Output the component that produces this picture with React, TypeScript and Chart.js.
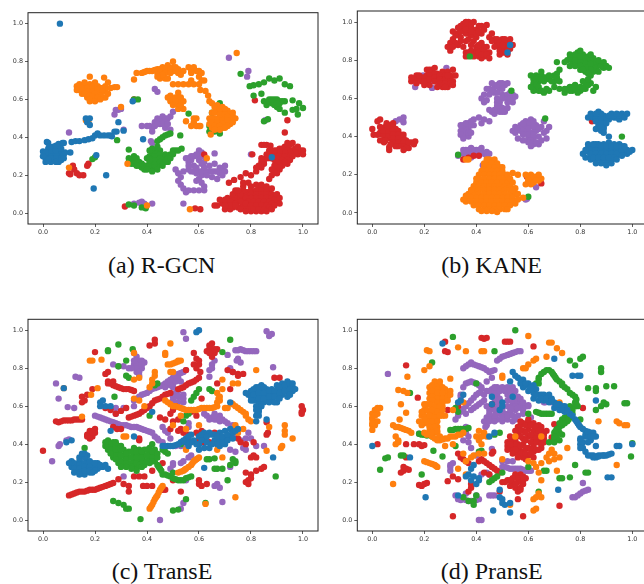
import React, { useEffect, useRef } from "react";
import { Chart, registerables } from "chart.js";

Chart.register(...registerables);

type P = number[];

const seriesColors = ["#1f77b4", "#ff7f0e", "#2ca02c", "#d62728", "#9467bd"];
const tickValues = [0, 0.2, 0.4, 0.6, 0.8, 1.0];
const captions = ["(a) R-GCN", "(b) KANE", "(c) TransE", "(d) PransE"];

// (a) R-GCN
const rgcnBlue: P[] = [[.065,1],[.195,.13],[.243,.2],[.385,.39],[.29,.48],[.345,.59],[.283,.43],[.31,.435],[0,.325],[.02,.3],[.02,.325],[.02,.34],[.04,.28],[.04,.3],[.04,.32],[.04,.34],[.04,.35],[.06,.27],[.06,.29],[.06,.31],[.06,.33],[.07,.3],[.07,.32],[.03,.27],[.01,.29],[.08,.31],[.085,.32],[.105,.32],[.015,.375],[.02,.37],[.06,.365],[.075,.37],[.08,.37],[.11,.375],[.125,.38],[.14,.38],[.16,.385],[.175,.39],[.19,.395],[.2,.41],[.21,.42],[.22,.41],[.235,.41],[.25,.41],[.26,.41],[.265,.405],[.165,.5],[.18,.5],[.17,.48],[.18,.465],[.205,.305],[.275,.43],[.88,.295],[.03,.31],[.03,.33],[.05,.31],[.05,.33],[.05,.29],[.01,.32],[.03,.29],[.05,.27],[.07,.28],[.025,.35],[.05,.355],[0,.3],[.01,.27],[.08,.29],[.07,.34],[.02,.28]];
const rgcnOrange: P[] = [[.14,.68],[.16,.67],[.18,.68],[.2,.69],[.22,.66],[.24,.67],[.14,.65],[.16,.65],[.18,.65],[.2,.65],[.22,.64],[.24,.65],[.15,.63],[.17,.63],[.19,.63],[.21,.63],[.17,.61],[.19,.6],[.2,.61],[.23,.61],[.24,.61],[.18,.59],[.18,.72],[.235,.715],[.275,.665],[.285,.665],[.3,.56],[.35,.705],[.36,.74],[.38,.74],[.4,.75],[.42,.75],[.44,.76],[.44,.74],[.46,.77],[.46,.75],[.48,.78],[.48,.75],[.5,.8],[.5,.77],[.5,.75],[.52,.76],[.52,.74],[.54,.75],[.45,.71],[.47,.71],[.48,.71],[.56,.77],[.57,.75],[.58,.77],[.59,.75],[.6,.75],[.61,.74],[.6,.72],[.61,.7],[.62,.7],[.57,.74],[.5,.68],[.52,.68],[.54,.68],[.56,.68],[.57,.7],[.58,.68],[.6,.68],[.605,.65],[.625,.645],[.635,.62],[.64,.59],[.65,.58],[.52,.635],[.48,.61],[.49,.62],[.5,.6],[.52,.6],[.53,.59],[.54,.59],[.5,.58],[.52,.57],[.52,.55],[.54,.55],[.49,.59],[.51,.58],[.55,.485],[.58,.5],[.59,.5],[.58,.48],[.57,.46],[.59,.46],[.6,.46],[.605,.46],[.63,.29],[.1,.24],[.325,.26],[.67,.57],[.69,.56],[.71,.54],[.65,.53],[.67,.54],[.69,.53],[.72,.52],[.73,.51],[.64,.5],[.66,.5],[.68,.51],[.7,.5],[.72,.49],[.64,.47],[.66,.47],[.68,.48],[.7,.47],[.72,.47],[.65,.45],[.67,.45],[.69,.45],[.645,.415],[.745,.845],[.565,.02],[.165,.49],[.175,.48],[.4,.04],[.15,.67],[.17,.66],[.19,.67],[.21,.67],[.23,.66],[.15,.65],[.17,.64],[.19,.64],[.21,.65],[.23,.64],[.16,.63],[.18,.62],[.2,.63],[.22,.62],[.19,.615],[.21,.61],[.18,.6],[.39,.745],[.41,.75],[.43,.755],[.45,.76],[.47,.765],[.49,.76],[.47,.74],[.49,.74],[.51,.75],[.51,.77],[.53,.73],[.46,.73],[.44,.72],[.66,.56],[.68,.55],[.7,.55],[.66,.53],[.68,.52],[.7,.52],[.71,.51],[.65,.5],[.67,.49],[.69,.49],[.71,.49],[.65,.48],[.67,.48],[.69,.47],[.71,.46],[.66,.46],[.68,.46],[.7,.45],[.68,.44],[.66,.44],[.51,.61],[.53,.61],[.51,.59],[.53,.57],[.5,.57],[.13,.67],[.13,.65],[.25,.63],[.26,.66],[.25,.69],[.16,.69],[.2,.59],[.22,.6],[.74,.5],[.73,.48],[.73,.53]];
const rgcnGreen: P[] = [[.35,.6],[.365,.6],[.56,.525],[.76,.735],[.528,.41],[.533,.34],[.285,.385],[.33,.335],[.44,.38],[.45,.39],[.46,.4],[.47,.41],[.48,.415],[.49,.42],[.35,.3],[.35,.28],[.34,.26],[.36,.27],[.37,.25],[.38,.24],[.39,.23],[.4,.29],[.41,.27],[.41,.3],[.42,.32],[.42,.29],[.42,.26],[.42,.24],[.44,.33],[.44,.31],[.44,.28],[.44,.25],[.46,.3],[.46,.27],[.47,.29],[.48,.27],[.49,.31],[.5,.33],[.51,.33],[.33,.045],[.35,.04],[.38,.03],[.395,.025],[.19,.285],[.2,.295],[.795,.67],[.81,.675],[.83,.68],[.85,.69],[.87,.71],[.89,.7],[.91,.71],[.93,.68],[.95,.67],[.84,.63],[.81,.62],[.85,.59],[.87,.6],[.89,.6],[.91,.59],[.93,.59],[.96,.595],[.86,.57],[.88,.58],[.9,.56],[.91,.55],[.93,.53],[.96,.545],[.975,.55],[.985,.58],[.98,.52],[1,.555],[.85,.485],[.865,.495],[.64,.46],[.64,.43],[.66,.43],[.68,.42],[.68,.58],[.67,.55],[.65,.53],[.715,.525],[.36,.29],[.37,.27],[.35,.26],[.38,.26],[.39,.25],[.4,.25],[.41,.25],[.43,.25],[.43,.27],[.43,.29],[.43,.31],[.45,.33],[.45,.31],[.45,.29],[.45,.27],[.41,.28],[.43,.33],[.47,.27],[.47,.31],[.87,.59],[.89,.59],[.91,.58],[.88,.6],[.9,.6],[.92,.59],[.89,.57],[.9,.58],[.33,.27],[.33,.29],[.36,.25],[.4,.23],[.42,.22],[.44,.23],[.46,.25],[.48,.29],[.49,.29],[.5,.31],[.52,.33],[.42,.34],[.44,.35],[.41,.33]];
const rgcnRed: P[] = [[.065,.285],[.35,.6],[.815,.595],[.94,.49],[.93,.425],[.805,.31],[.315,.035],[.585,.025],[.605,.02],[.62,.31],[.115,.25],[.12,.23],[.13,.21],[.14,.2],[.155,.2],[.1,.21],[.17,.25],[.175,.26],[.105,.205],[.84,.36],[.85,.36],[.86,.36],[.875,.355],[.95,.36],[.93,.35],[.91,.34],[.95,.33],[.97,.34],[.99,.33],[1,.33],[.98,.31],[.96,.31],[.94,.31],[.92,.32],[.9,.31],[.88,.31],[.87,.29],[.89,.28],[.91,.29],[.93,.28],[.95,.28],[.94,.26],[.92,.25],[.91,.23],[.9,.21],[.88,.2],[.87,.18],[.85,.26],[.84,.24],[.82,.22],[.8,.2],[.78,.21],[.76,.19],[.735,.175],[.715,.16],[.83,.13],[.85,.13],[.79,.11],[.81,.11],[.83,.11],[.85,.11],[.87,.11],[.77,.09],[.79,.09],[.81,.09],[.83,.09],[.85,.09],[.87,.09],[.89,.09],[.78,.07],[.8,.07],[.82,.07],[.84,.07],[.86,.07],[.88,.07],[.9,.06],[.77,.05],[.79,.05],[.81,.05],[.83,.05],[.85,.05],[.87,.05],[.78,.03],[.8,.03],[.82,.03],[.84,.03],[.86,.03],[.8,.01],[.82,.01],[.84,.01],[.82,.15],[.8,.14],[.77,.14],[.67,.04],[.69,.05],[.71,.05],[.73,.06],[.71,.08],[.73,.08],[.75,.08],[.75,.1],[.73,.1],[.77,.12],[.75,.06],[.73,.03],[.75,.03],[.77,.04],[.66,.04],[.7,.02],[.72,.02],[.94,.35],[.92,.34],[.9,.33],[.94,.33],[.96,.33],[.98,.33],[.97,.32],[.95,.32],[.93,.32],[.91,.32],[.89,.31],[.87,.31],[.89,.3],[.91,.3],[.93,.3],[.95,.3],[.96,.3],[.88,.29],[.9,.29],[.92,.28],[.94,.28],[.93,.27],[.91,.26],[.9,.24],[.91,.25],[.89,.22],[.86,.29],[.85,.28],[.84,.27],[.83,.25],[.82,.24],[.78,.11],[.8,.12],[.82,.12],[.84,.12],[.86,.12],[.78,.09],[.8,.1],[.82,.1],[.84,.1],[.86,.1],[.88,.1],[.76,.08],[.78,.08],[.8,.08],[.82,.08],[.84,.08],[.86,.08],[.88,.08],[.79,.06],[.81,.06],[.83,.06],[.85,.06],[.87,.06],[.89,.07],[.76,.06],[.78,.05],[.8,.04],[.82,.04],[.84,.04],[.86,.04],[.88,.05],[.79,.02],[.81,.02],[.83,.02],[.85,.02],[.87,.03],[.68,.07],[.7,.07],[.72,.06],[.74,.05],[.72,.04],[.7,.04],[.76,.1],[.74,.12],[.74,.04],[1,.31],[.98,.35],[.96,.37],[.94,.37],[.89,.33],[.87,.33],[.86,.31],[.84,.29],[.9,.27],[.89,.25],[.88,.23],[.75,.12],[.77,.16],[.79,.16],[.84,.15],[.86,.14],[.88,.13],[.9,.1],[.91,.08],[.91,.05],[.89,.04],[.76,.02],[.78,.01],[.86,.01],[.88,.02]];
const rgcnPurple: P[] = [[.005,.32],[.1,.425],[.79,.75],[.785,.72],[.715,.82],[.855,.49],[.8,.31],[.31,.44],[.43,.655],[.44,.64],[.28,.545],[.275,.52],[.29,.545],[.3,.55],[.38,.46],[.4,.46],[.42,.45],[.43,.48],[.44,.5],[.46,.51],[.48,.5],[.49,.51],[.5,.535],[.45,.47],[.47,.48],[.47,.45],[.49,.44],[.42,.43],[.415,.38],[.42,.37],[.56,.29],[.58,.3],[.6,.33],[.61,.32],[.62,.3],[.66,.315],[.56,.27],[.58,.25],[.6,.28],[.62,.27],[.64,.25],[.66,.26],[.68,.24],[.69,.23],[.56,.23],[.58,.22],[.6,.22],[.62,.22],[.64,.22],[.66,.22],[.68,.21],[.61,.2],[.65,.19],[.67,.18],[.51,.23],[.52,.21],[.53,.19],[.52,.17],[.53,.15],[.54,.13],[.55,.11],[.56,.12],[.58,.12],[.6,.18],[.61,.16],[.6,.12],[.62,.12],[.54,.05],[.35,.05],[.37,.055],[.38,.06],[.39,.05],[.42,.05],[.395,.04],[.41,.46],[.43,.46],[.45,.49],[.47,.5],[.46,.47],[.44,.47],[.48,.47],[.59,.24],[.57,.22],[.59,.21],[.61,.22],[.63,.22],[.65,.22],[.67,.22],[.61,.26],[.6,.3],[.59,.31],[.62,.24],[.63,.2],[.57,.28],[.57,.3],[.59,.17],[.62,.14],[.55,.29],[.7,.25],[.7,.22],[.69,.2],[.56,.25],[.54,.22]];

// (b) KANE
const kaneBlue: P[] = [[.83,.5],[.85,.5],[.87,.53],[.87,.49],[.89,.51],[.89,.48],[.91,.49],[.87,.46],[.89,.45],[.86,.44],[.88,.43],[.89,.44],[.92,.52],[.94,.51],[.96,.52],[.93,.5],[.95,.49],[.94,.5],[.83,.36],[.91,.4],[.82,.29],[.87,.36],[.89,.36],[.91,.37],[.93,.36],[.95,.36],[.83,.34],[.85,.34],[.87,.34],[.89,.34],[.91,.34],[.93,.34],[.95,.34],[.97,.33],[.83,.32],[.85,.32],[.87,.32],[.89,.32],[.91,.32],[.93,.32],[.95,.32],[.97,.32],[1,.33],[.84,.3],[.86,.3],[.88,.3],[.9,.3],[.92,.3],[.94,.3],[.96,.31],[.98,.31],[.84,.28],[.86,.28],[.88,.28],[.9,.28],[.92,.28],[.88,.26],[.9,.26],[.52,.84],[.53,.88],[.86,.5],[.86,.48],[.88,.5],[.88,.47],[.88,.52],[.9,.5],[.9,.47],[.88,.45],[.93,.51],[.95,.51],[.94,.52],[.84,.33],[.86,.33],[.88,.33],[.9,.33],[.92,.33],[.94,.33],[.96,.33],[.84,.31],[.86,.31],[.88,.31],[.9,.31],[.92,.31],[.94,.31],[.96,.3],[.85,.29],[.87,.29],[.89,.29],[.91,.29],[.93,.29],[.88,.35],[.9,.35],[.92,.35],[.94,.35],[.81,.31],[.82,.33],[.98,.33],[.99,.32],[.96,.35],[.97,.35],[.86,.36],[.85,.36],[.86,.26],[.92,.26],[.94,.28],[.9,.25],[.84,.52],[.91,.51],[.97,.5],[.98,.52],[.86,.52],[.89,.42]];
const kaneOrange: P[] = [[.45,.28],[.47,.28],[.44,.26],[.46,.26],[.48,.26],[.43,.24],[.45,.24],[.47,.24],[.49,.24],[.42,.22],[.44,.22],[.46,.22],[.48,.22],[.5,.22],[.41,.2],[.43,.2],[.45,.2],[.47,.2],[.49,.2],[.51,.2],[.41,.18],[.43,.18],[.45,.18],[.47,.18],[.49,.18],[.51,.18],[.4,.16],[.42,.16],[.44,.16],[.46,.16],[.48,.16],[.5,.16],[.52,.16],[.39,.14],[.41,.14],[.43,.14],[.45,.14],[.47,.14],[.49,.14],[.51,.14],[.53,.14],[.39,.12],[.41,.12],[.43,.12],[.45,.12],[.47,.12],[.49,.12],[.51,.12],[.53,.12],[.37,.1],[.39,.1],[.41,.1],[.43,.1],[.45,.1],[.47,.1],[.49,.1],[.51,.1],[.53,.1],[.55,.1],[.36,.08],[.38,.08],[.4,.08],[.42,.08],[.44,.08],[.46,.08],[.48,.08],[.5,.08],[.52,.08],[.54,.08],[.36,.06],[.38,.06],[.4,.06],[.42,.06],[.44,.06],[.46,.06],[.48,.06],[.5,.06],[.52,.06],[.54,.06],[.39,.04],[.41,.04],[.43,.04],[.45,.04],[.47,.04],[.49,.04],[.51,.04],[.53,.04],[.41,.02],[.43,.02],[.45,.02],[.47,.02],[.49,.02],[.51,.02],[.46,.01],[.48,.005],[.54,.21],[.59,.2],[.61,.2],[.63,.19],[.62,.17],[.64,.17],[.6,.16],[.59,.15],[.61,.15],[.65,.18],[.56,.2],[.56,.1],[.58,.08],[.54,.16],[.36,.28],[.37,.28],[.64,.2],[.6,.18],[.62,.19],[.6,.17],[.62,.16],[.63,.17],[.35,.07],[.36,.09],[.38,.12],[.4,.18],[.43,.26],[.44,.28],[.5,.24],[.52,.2],[.53,.18],[.55,.13],[.56,.07],[.55,.05],[.52,.02],[.44,.01],[.42,.01],[.54,.12]];
const kaneGreen: P[] = [[.75,.8],[.77,.82],[.79,.84],[.81,.83],[.83,.82],[.85,.81],[.87,.78],[.89,.76],[.77,.79],[.79,.81],[.81,.8],[.83,.79],[.85,.77],[.79,.78],[.81,.77],[.83,.76],[.8,.75],[.85,.74],[.82,.74],[.76,.77],[.84,.72],[.62,.7],[.62,.68],[.63,.72],[.65,.72],[.67,.71],[.64,.69],[.66,.69],[.68,.7],[.7,.72],[.71,.73],[.72,.75],[.7,.69],[.72,.69],[.71,.79],[.63,.65],[.62,.64],[.64,.64],[.66,.63],[.68,.64],[.7,.66],[.72,.65],[.74,.63],[.75,.65],[.77,.64],[.78,.67],[.79,.65],[.8,.64],[.81,.69],[.83,.67],[.84,.68],[.82,.65],[.85,.64],[.76,.66],[.535,.64],[.665,.495],[.96,.4],[.955,.31],[.6,.085],[.33,.305],[.375,.82],[.76,.81],[.78,.83],[.8,.82],[.78,.8],[.8,.79],[.82,.81],[.84,.8],[.86,.79],[.82,.78],[.84,.78],[.78,.77],[.8,.77],[.86,.76],[.88,.77],[.84,.75],[.82,.76],[.81,.75],[.83,.73],[.63,.7],[.64,.71],[.66,.71],[.65,.7],[.69,.69],[.71,.71],[.63,.67],[.64,.66],[.65,.64],[.67,.65],[.74,.65],[.76,.64],[.78,.65],[.8,.66],[.82,.67],[.79,.63],[.77,.66],[.81,.65],[.87,.8],[.89,.79],[.9,.77],[.91,.76],[.74,.79],[.76,.83],[.8,.85],[.84,.83],[.87,.74],[.61,.72],[.61,.66],[.65,.74],[.68,.72],[.83,.7],[.86,.66]];
const kaneRed: P[] = [[.3,.89],[.31,.91],[.33,.94],[.35,.96],[.35,.99],[.37,1],[.36,.94],[.38,.97],[.38,.93],[.33,.88],[.36,.9],[.4,.96],[.42,.94],[.42,.98],[.44,.985],[.4,.92],[.3,.85],[.34,.92],[.34,.98],[.36,.84],[.38,.85],[.4,.84],[.41,.82],[.43,.82],[.42,.85],[.39,.82],[.4,.87],[.43,.87],[.42,.89],[.45,.84],[.42,.81],[.45,.92],[.47,.91],[.48,.89],[.5,.91],[.49,.87],[.5,.86],[.52,.87],[.5,.89],[.52,.89],[.53,.86],[.51,.84],[.47,.87],[.15,.69],[.17,.7],[.17,.72],[.19,.71],[.19,.69],[.21,.75],[.21,.72],[.21,.69],[.23,.75],[.23,.71],[.22,.67],[.25,.73],[.25,.7],[.27,.74],[.27,.71],[.29,.74],[.3,.72],[.29,.69],[.27,.68],[.31,.69],[.29,.66],[.27,.66],[.31,.75],[.2,.67],[0,.44],[.005,.41],[.03,.38],[.03,.49],[.045,.37],[.02,.48],[.03,.42],[.05,.45],[.05,.42],[.05,.4],[.07,.46],[.07,.44],[.07,.42],[.07,.39],[.09,.44],[.09,.42],[.09,.39],[.09,.37],[.11,.41],[.11,.38],[.11,.36],[.13,.38],[.13,.36],[.14,.34],[.15,.37],[.165,.375],[.065,.33],[.065,.345],[.055,.47],[.35,.28],[.37,.29],[.39,.3],[.41,.3],[.595,.19],[.65,.155],[.845,.48],[.32,.93],[.34,.95],[.36,.98],[.38,.99],[.36,.96],[.34,.9],[.32,.89],[.38,.95],[.37,.91],[.4,.94],[.41,.98],[.43,.96],[.41,.95],[.39,.9],[.38,.88],[.4,.85],[.41,.86],[.41,.84],[.43,.85],[.38,.83],[.37,.84],[.42,.83],[.44,.83],[.44,.87],[.41,.88],[.46,.9],[.48,.91],[.49,.89],[.51,.87],[.49,.85],[.5,.88],[.52,.85],[.5,.84],[.51,.91],[.18,.7],[.18,.72],[.2,.71],[.2,.69],[.22,.73],[.22,.7],[.22,.75],[.24,.73],[.24,.71],[.24,.69],[.26,.72],[.26,.7],[.26,.68],[.28,.72],[.28,.7],[.28,.68],[.3,.7],[.3,.68],[.28,.66],[.16,.7],[.29,.72],[.05,.43],[.06,.44],[.06,.42],[.06,.4],[.04,.41],[.04,.43],[.08,.45],[.08,.43],[.08,.41],[.08,.39],[.08,.37],[.1,.43],[.1,.41],[.1,.39],[.1,.37],[.12,.39],[.12,.37],[.12,.35],[.14,.37],[.12,.41],[.06,.46],[.08,.47],[.1,.35],[.29,.87],[.35,.87],[.33,.97],[.31,.95],[.36,1],[.39,1],[.46,.94],[.53,.91],[.54,.88],[.52,.83],[.49,.83],[.45,.81],[.36,.82],[.31,.87],[.17,.68],[.15,.71],[.24,.76],[.32,.72],[.31,.67],[.25,.66],[.02,.41],[.03,.45],[.04,.38],[.16,.36],[.13,.34],[.12,.33],[.09,.35],[.07,.36],[.05,.38]];
const kanePurple: P[] = [[.285,.76],[.195,.72],[.235,.69],[.295,.695],[.165,.66],[.23,.655],[.09,.48],[.105,.49],[.12,.5],[.12,.475],[.45,.65],[.47,.66],[.49,.68],[.47,.63],[.49,.65],[.48,.6],[.5,.62],[.51,.67],[.5,.6],[.52,.62],[.54,.6],[.53,.63],[.54,.58],[.45,.62],[.42,.6],[.43,.58],[.44,.59],[.48,.58],[.46,.53],[.48,.54],[.49,.56],[.5,.55],[.51,.53],[.47,.52],[.35,.46],[.35,.44],[.37,.47],[.37,.44],[.36,.42],[.37,.4],[.39,.49],[.39,.46],[.41,.5],[.42,.47],[.43,.49],[.45,.48],[.55,.45],[.57,.46],[.59,.48],[.61,.49],[.63,.46],[.57,.43],[.59,.45],[.61,.46],[.63,.43],[.56,.39],[.59,.42],[.61,.42],[.6,.39],[.62,.39],[.64,.4],[.62,.36],[.64,.36],[.65,.45],[.67,.39],[.68,.45],[.66,.48],[.67,.43],[.33,.3],[.35,.31],[.36,.33],[.37,.3],[.39,.31],[.38,.34],[.4,.33],[.42,.34],[.43,.31],[.42,.32],[.44,.3],[.425,.25],[.63,.135],[.595,.075],[.59,.07],[.46,.64],[.48,.67],[.5,.68],[.48,.63],[.5,.65],[.52,.6],[.52,.58],[.53,.6],[.54,.62],[.49,.58],[.49,.53],[.48,.56],[.47,.54],[.5,.53],[.36,.45],[.36,.47],[.36,.43],[.36,.41],[.35,.42],[.38,.46],[.38,.48],[.35,.41],[.37,.42],[.56,.44],[.58,.45],[.6,.47],[.62,.48],[.58,.47],[.6,.44],[.62,.45],[.64,.44],[.58,.43],[.6,.41],[.62,.42],[.58,.41],[.61,.38],[.63,.37],[.6,.37],[.62,.41],[.36,.31],[.38,.31],[.39,.33],[.37,.33],[.4,.31],[.41,.31],[.41,.33],[.43,.62],[.44,.65],[.46,.68],[.52,.68],[.55,.61],[.45,.54],[.52,.55],[.34,.43],[.34,.46],[.34,.41],[.35,.39],[.38,.42],[.54,.43],[.55,.42],[.66,.42],[.65,.38],[.61,.35],[.58,.38],[.35,.33],[.38,.29],[.44,.32],[.45,.31]];

// (c) TransE
const transeBlue: P[] = [[.79,.66],[.8,.68],[.8,.65],[.82,.7],[.82,.67],[.82,.64],[.84,.71],[.84,.68],[.84,.65],[.83,.62],[.85,.62],[.86,.69],[.86,.66],[.86,.63],[.88,.69],[.88,.66],[.88,.63],[.9,.71],[.9,.68],[.9,.65],[.9,.62],[.92,.72],[.92,.69],[.92,.66],[.94,.73],[.94,.71],[.94,.68],[.94,.65],[.96,.7],[.96,.68],[.82,.6],[.82,.58],[.83,.55],[.82,.52],[.86,.53],[.11,.31],[.11,.28],[.12,.3],[.13,.28],[.13,.26],[.14,.33],[.15,.3],[.15,.27],[.15,.25],[.17,.34],[.17,.31],[.17,.28],[.17,.26],[.19,.3],[.19,.27],[.21,.3],[.21,.27],[.23,.28],[.16,.24],[.18,.25],[.2,.28],[.22,.62],[.24,.6],[.22,.6],[.23,.63],[.26,.6],[.46,.39],[.48,.39],[.5,.39],[.53,.41],[.55,.43],[.57,.45],[.58,.42],[.6,.44],[.62,.46],[.64,.46],[.66,.45],[.68,.46],[.7,.47],[.72,.48],[.62,.43],[.6,.4],[.66,.42],[.68,.42],[.7,.43],[.72,.44],[.62,.38],[.64,.38],[.68,.39],[.7,.4],[.56,.39],[.6,.37],[.6,1],[.59,.99],[.885,.33],[.62,.275],[.35,.44],[.26,.47],[.42,.57],[.09,.41],[.11,.42],[.72,.62],[.08,.695],[.81,.69],[.81,.66],[.81,.63],[.83,.7],[.83,.67],[.83,.64],[.85,.7],[.85,.67],[.85,.64],[.87,.68],[.87,.65],[.87,.62],[.89,.68],[.89,.65],[.89,.62],[.91,.7],[.91,.67],[.91,.64],[.93,.71],[.93,.68],[.95,.72],[.95,.69],[.95,.66],[.84,.6],[.83,.58],[.83,.57],[.82,.55],[.12,.27],[.14,.31],[.14,.29],[.14,.27],[.14,.25],[.16,.33],[.16,.3],[.16,.28],[.16,.26],[.18,.31],[.18,.28],[.18,.26],[.2,.3],[.2,.26],[.22,.28],[.22,.29],[.19,.25],[.16,.35],[.61,.45],[.63,.44],[.65,.45],[.67,.44],[.69,.44],[.71,.45],[.61,.42],[.63,.41],[.65,.4],[.67,.4],[.69,.41],[.71,.42],[.73,.46],[.59,.4],[.57,.41],[.55,.41],[.97,.69],[.96,.72],[.78,.67],[.8,.63],[.47,.39],[.49,.39],[.51,.395],[.52,.4],[.54,.42],[.56,.44],[.73,.43],[.74,.47],[.75,.48],[.1,.3],[.24,.29],[.25,.27],[.15,.35],[.12,.25],[.14,.24]];
const transeOrange: P[] = [[.18,.84],[.19,.84],[.225,.845],[.08,.695],[.21,.695],[.185,.66],[.15,.545],[.31,.44],[.32,.44],[.49,.93],[.47,.87],[.49,.82],[.51,.83],[.53,.84],[.52,.84],[.47,.88],[.49,.78],[.43,.78],[.43,.76],[.42,.74],[.42,.72],[.41,.7],[.47,.63],[.49,.61],[.51,.6],[.53,.59],[.55,.58],[.57,.58],[.59,.58],[.61,.59],[.63,.59],[.65,.59],[.67,.6],[.67,.62],[.68,.65],[.67,.67],[.69,.69],[.69,.74],[.73,.72],[.75,.72],[.82,.79],[.7,.59],[.71,.59],[.73,.61],[.75,.59],[.77,.57],[.78,.55],[.79,.53],[.8,.52],[.74,.5],[.74,.48],[.77,.48],[.75,.46],[.87,.49],[.93,.5],[.93,.47],[.93,.45],[.96,.43],[.92,.39],[.915,.38],[.86,.365],[.74,.12],[.625,.085],[.69,.33],[.67,.37],[.55,.37],[.52,.25],[.54,.26],[.55,.27],[.56,.28],[.57,.29],[.58,.31],[.59,.32],[.6,.33],[.41,.06],[.42,.08],[.43,.11],[.44,.13],[.45,.16],[.46,.18],[.55,.48],[.6,.5],[.5,.5],[.53,.55],[.35,.88],[.35,.74],[.37,.75],[.5,.78],[.35,.64],[.37,.63],[.39,.6],[.5,.6],[.52,.595],[.54,.585],[.56,.58],[.58,.58],[.6,.585],[.62,.59],[.64,.59],[.66,.595],[.48,.62],[.74,.6],[.76,.58],[.78,.56],[.725,.615],[.5,.825],[.48,.82],[.52,.835],[.53,.255],[.545,.265],[.575,.3],[.585,.315],[.595,.325],[.415,.07],[.425,.095],[.435,.12],[.445,.145],[.455,.17],[.68,.63],[.675,.64]];
const transeGreen: P[] = [[.25,.42],[.25,.39],[.25,.37],[.27,.41],[.27,.38],[.27,.36],[.27,.33],[.29,.39],[.29,.36],[.29,.33],[.29,.3],[.31,.37],[.31,.34],[.31,.31],[.31,.29],[.33,.36],[.33,.33],[.33,.3],[.35,.38],[.35,.35],[.35,.32],[.35,.29],[.37,.37],[.37,.34],[.37,.31],[.39,.37],[.39,.34],[.39,.31],[.39,.29],[.41,.38],[.41,.35],[.41,.32],[.41,.3],[.43,.37],[.43,.34],[.43,.31],[.44,.29],[.45,.27],[.46,.24],[.47,.24],[.49,.23],[.5,.22],[.52,.21],[.54,.21],[.55,.22],[.57,.23],[.16,.38],[.25,.895],[.25,.89],[.29,.925],[.345,.9],[.32,.84],[.29,.81],[.32,.76],[.33,.75],[.275,.65],[.43,.71],[.44,.72],[.72,.95],[.69,.885],[.58,.65],[.59,.67],[.6,.69],[.57,.63],[.64,.69],[.65,.68],[.55,.55],[.56,.56],[.54,.52],[.41,.55],[.47,.36],[.48,.35],[.46,.37],[.42,.4],[.64,.32],[.63,.32],[.66,.325],[.73,.32],[.74,.31],[.72,.29],[.74,.3],[.66,.27],[.67,.27],[.69,.27],[.71,.21],[.895,.23],[.27,.1],[.29,.09],[.31,.08],[.32,.06],[.33,.06],[.375,.005],[.5,.05],[.52,.055],[.55,.11],[.625,.09],[.36,.27],[.36,.26],[.5,.25],[.53,.4],[.26,.4],[.26,.37],[.28,.39],[.28,.37],[.28,.34],[.3,.37],[.3,.34],[.3,.31],[.32,.35],[.32,.32],[.32,.3],[.34,.36],[.34,.33],[.34,.3],[.36,.36],[.36,.33],[.36,.3],[.38,.36],[.38,.33],[.38,.3],[.4,.37],[.4,.34],[.4,.31],[.42,.36],[.42,.33],[.42,.31],[.26,.35],[.3,.28],[.34,.28],[.48,.235],[.51,.215],[.53,.21],[.56,.225],[.445,.28],[.455,.26],[.28,.32],[.24,.39],[.24,.41],[.44,.35],[.44,.33],[.32,.28],[.34,.27],[.37,.29],[.38,.28],[.28,.41],[.3,.39]];
const transeRed: P[] = [[.1,.13],[.12,.14],[.14,.15],[.16,.15],[.18,.16],[.2,.16],[.22,.17],[.24,.18],[.26,.19],[.29,.215],[.31,.19],[.33,.15],[.35,.23],[.37,.23],[.39,.23],[.385,.18],[.4,.18],[.42,.18],[.42,.26],[.46,.3],[.33,.18],[.46,.16],[.47,.16],[.5,.21],[.53,.15],[.6,.21],[.6,.19],[.61,.18],[.63,.19],[.78,.2],[.79,.21],[.8,.22],[.8,.24],[.82,.26],[.84,.27],[.85,.28],[.78,.25],[.79,.19],[.8,.33],[.82,.33],[.81,.34],[.17,.45],[.18,.46],[.19,.47],[.2,.48],[.19,.44],[.18,.43],[.05,.52],[.06,.515],[.09,.525],[.11,.525],[.13,.53],[.15,.53],[0,.365],[.15,.65],[.16,.63],[.17,.66],[.15,.62],[.2,.885],[.19,.69],[.24,.77],[.25,.78],[.25,.73],[.27,.71],[.29,.7],[.31,.69],[.33,.69],[.35,.68],[.25,.72],[.27,.73],[.41,.92],[.43,.93],[.43,.95],[.58,.88],[.6,.82],[.59,.85],[.6,.84],[.59,.8],[.58,.82],[.63,.89],[.64,.92],[.65,.93],[.65,.9],[.66,.88],[.67,.9],[.65,.86],[.52,.69],[.54,.7],[.56,.72],[.58,.73],[.6,.75],[.605,.78],[.55,.79],[.73,.78],[.75,.77],[.77,.77],[.72,.69],[.75,.76],[.71,.79],[.24,.59],[.26,.58],[.28,.56],[.3,.575],[.32,.59],[.285,.48],[.27,.49],[.3,.48],[.33,.54],[.35,.55],[.37,.56],[.39,.58],[.41,.6],[.43,.63],[.45,.64],[.47,.66],[.49,.67],[.37,.43],[.37,.42],[.45,.54],[.47,.53],[.49,.56],[.5,.52],[.52,.53],[.5,.58],[.51,.6],[.49,.48],[.52,.47],[.54,.46],[.56,.45],[.6,.44],[.59,.46],[.61,.47],[.56,.42],[.6,.42],[.62,.41],[.64,.41],[.66,.46],[.57,.57],[.59,.55],[.61,.64],[.76,.41],[.75,.43],[.78,.4],[.81,.41],[.86,.45],[.865,.46],[.86,.515],[.89,.75],[.91,.75],[1,.58],[.995,.57],[.995,.6],[.995,.56],[.53,.48],[.67,.72],[.11,.135],[.13,.145],[.15,.15],[.17,.155],[.19,.16],[.21,.165],[.23,.175],[.25,.185],[.27,.195],[.08,.525],[.07,.52],[.1,.525],[.12,.53],[.14,.53],[.26,.72],[.28,.705],[.3,.695],[.32,.69],[.34,.685],[.53,.695],[.55,.71],[.57,.725],[.59,.74],[.34,.545],[.36,.555],[.38,.57],[.4,.59],[.42,.615],[.44,.635],[.46,.65],[.48,.665],[.18,.47],[.17,.44],[.2,.46],[.19,.46],[.64,.9],[.66,.9],[.64,.88]];
const transePurple: P[] = [[.05,.72],[.06,.64],[.095,.595],[.12,.59],[.125,.755],[.14,.75],[.035,.31],[.06,.39],[.065,.4],[.09,.42],[.1,.425],[.2,.55],[.22,.54],[.24,.53],[.26,.52],[.28,.51],[.3,.5],[.32,.5],[.34,.49],[.36,.49],[.38,.48],[.4,.47],[.42,.46],[.43,.44],[.445,.42],[.46,.41],[.28,.56],[.28,.59],[.31,.59],[.35,.6],[.35,.63],[.36,.64],[.38,.66],[.4,.67],[.42,.69],[.44,.7],[.46,.71],[.48,.73],[.5,.75],[.52,.77],[.54,.78],[.53,.73],[.5,.72],[.5,.65],[.51,.67],[.52,.62],[.53,.65],[.54,.62],[.52,.68],[.54,.66],[.35,.88],[.36,.86],[.37,.84],[.35,.82],[.37,.8],[.36,.78],[.37,.76],[.38,.8],[.33,.8],[.31,.81],[.39,.83],[.27,.82],[.29,.81],[.54,.99],[.55,.955],[.86,.995],[.87,.97],[.88,.98],[.885,.805],[.92,.68],[.74,.895],[.76,.9],[.78,.89],[.8,.89],[.82,.89],[.71,.87],[.75,.85],[.76,.83],[.65,.82],[.64,.79],[.66,.84],[.72,.8],[.73,.78],[.64,.755],[.65,.8],[.63,.55],[.65,.54],[.67,.53],[.69,.53],[.71,.51],[.73,.5],[.66,.56],[.68,.55],[.79,.46],[.78,.43],[.76,.42],[.74,.44],[.8,.43],[.82,.39],[.85,.39],[.72,.37],[.74,.36],[.78,.37],[.77,.38],[.46,.49],[.47,.47],[.48,.46],[.49,.43],[.5,.3],[.49,.27],[.5,.29],[.51,.39],[.53,.39],[.55,.38],[.53,.3],[.54,.31],[.56,.33],[.57,.34],[.56,.51],[.56,.49],[.31,.23],[.55,.21],[.67,.19],[.66,.18],[.68,.17],[.69,.095],[.53,.06],[.54,.09],[.45,0],[.72,.28],[.62,.56],[.36,.84],[.36,.82],[.36,.8],[.38,.84],[.38,.82],[.34,.8],[.35,.84],[.37,.78],[.5,.7],[.51,.73],[.52,.75],[.5,.63],[.52,.65],[.54,.64],[.51,.62],[.64,.53],[.66,.53],[.68,.52],[.7,.52],[.66,.55],[.68,.53],[.21,.545],[.23,.535],[.25,.525],[.27,.515],[.29,.505],[.31,.5],[.33,.495],[.35,.49],[.37,.485],[.39,.475],[.41,.465],[.44,.43],[.37,.65],[.39,.665],[.41,.68],[.43,.695],[.45,.705],[.47,.72],[.49,.74],[.51,.76],[.53,.775],[.55,.79],[.49,.71],[.47,.7],[.75,.895],[.77,.895],[.79,.89],[.81,.89],[.745,.84],[.72,.79]];

// (d) PransE
const pranseBlue: P[] = [[.54,.78],[.56,.75],[.58,.74],[.6,.72],[.62,.71],[.58,.7],[.6,.68],[.62,.67],[.64,.66],[.66,.66],[.68,.66],[.62,.64],[.64,.63],[.66,.63],[.68,.62],[.7,.62],[.72,.61],[.74,.6],[.7,.59],[.72,.58],[.74,.57],[.76,.56],[.78,.53],[.79,.51],[.8,.49],[.82,.47],[.84,.46],[.85,.46],[.86,.44],[.82,.44],[.84,.42],[.8,.42],[.8,.4],[.81,.38],[.82,.36],[.84,.34],[.86,.33],[.88,.34],[.9,.34],[.92,.35],[.86,.39],[.77,.76],[.79,.76],[.8,.76],[.7,.85],[.86,.63],[.95,.39],[.94,.39],[1,.4],[0,.39],[.905,.225],[.92,.225],[.205,.12],[.715,.16],[.465,.05],[.53,.04],[.27,.93],[.49,.58],[.5,.62],[.5,.6],[.46,.65],[.54,.65],[.53,.73],[.35,.66],[.33,.62],[.34,.63],[.46,.61],[.47,.46],[.45,.44],[.39,.29],[.38,.27],[.37,.24],[.36,.23],[.39,.23],[.41,.22],[.38,.21],[.41,.21],[.5,.11],[.49,.12],[.5,.09],[.51,.08],[.49,.16],[.53,.09],[.33,.13],[.4,.19],[.145,.33],[.57,.72],[.59,.71],[.61,.69],[.63,.69],[.63,.66],[.65,.66],[.65,.64],[.67,.64],[.69,.64],[.71,.6],[.73,.6],[.82,.45],[.83,.44],[.81,.41],[.83,.41],[.85,.33],[.87,.34],[.89,.34],[.55,.76],[.57,.74],[.59,.72],[.61,.7],[.69,.63],[.71,.61],[.73,.58],[.75,.58],[.77,.55],[.785,.52],[.795,.5],[.81,.48],[.83,.465],[.84,.44],[.85,.44],[.8,.43],[.8,.38],[.83,.34],[.85,.34],[.87,.335],[.89,.34],[.91,.345]];
const pranseOrange: P[] = [[.24,.73],[.26,.71],[.22,.7],[.24,.7],[.26,.68],[.28,.69],[.29,.67],[.22,.67],[.24,.66],[.26,.65],[.28,.65],[.22,.64],[.24,.63],[.26,.62],[.28,.63],[.21,.61],[.23,.6],[.25,.59],[.27,.6],[.2,.58],[.22,.57],[.24,.56],[.26,.57],[.19,.55],[.21,.54],[.23,.53],[.25,.54],[.27,.55],[.2,.51],[.22,.5],[.24,.51],[.25,.49],[.22,.47],[.24,.47],[.25,.46],[.21,.45],[.23,.44],[0,.475],[0,.5],[0,.53],[0,.56],[.01,.58],[.03,.59],[.02,.56],[.02,.52],[.01,.5],[.11,.61],[.105,.53],[.13,.565],[.1,.685],[.12,.68],[.135,.67],[.135,.755],[.08,.5],[.1,.49],[.12,.48],[.14,.47],[.15,.46],[.09,.44],[.1,.42],[.09,.4],[.1,.41],[.2,.31],[.22,.3],[.24,.29],[.25,.28],[.08,.19],[.2,.79],[.22,.81],[.21,.895],[.22,.89],[.3,.745],[.33,.91],[.36,.89],[.42,.89],[.43,.89],[.5,.75],[.5,.76],[.6,.97],[.68,.935],[.69,.935],[.71,.905],[.73,.88],[.67,.86],[.63,.85],[.62,.84],[.58,.8],[.6,.82],[.59,.8],[.24,.43],[.26,.42],[.28,.43],[.3,.44],[.32,.44],[.34,.45],[.28,.39],[.35,.35],[.38,.33],[.39,.34],[.41,.35],[.36,.31],[.33,.27],[.4,.44],[.41,.42],[.42,.44],[.43,.46],[.44,.44],[.41,.47],[.42,.4],[.31,.4],[.31,.58],[.28,.55],[.35,.62],[.43,.35],[.36,.24],[.62,.3],[.63,.28],[.65,.3],[.64,.25],[.65,.21],[.62,.11],[.63,.12],[.65,.12],[.64,.14],[.63,.06],[.62,.05],[.53,.08],[.67,.33],[.68,.35],[.69,.37],[.7,.35],[.7,.32],[.68,.31],[.72,.33],[.75,.38],[.65,.44],[.71,.26],[.72,.62],[.94,.52],[.95,.51],[.97,.5],[.98,.5],[.94,.29],[.87,.52],[.55,.44],[.5,.32],[.6,.31],[.23,.71],[.25,.72],[.25,.69],[.27,.7],[.23,.68],[.25,.67],[.27,.67],[.23,.65],[.25,.64],[.27,.64],[.29,.65],[.23,.63],[.25,.62],[.27,.62],[.22,.61],[.24,.6],[.26,.6],[.21,.58],[.23,.58],[.25,.57],[.2,.55],[.22,.55],[.24,.54],[.26,.55],[.21,.52],[.23,.52],[.25,.52],[.22,.49],[.24,.49],[.23,.47],[.23,.46],[.2,.53],[.26,.73],[.3,.68],[.3,.66],[.29,.63],[.2,.61],[.19,.57],[.18,.52],[.19,.5],[.2,.46],[.27,.58],[.25,.47],[.26,.44],[.25,.42],[.27,.425],[.29,.43],[.31,.44],[.33,.45],[.35,.46],[0,.51],[0,.54],[.01,.55],[.02,.59],[.09,.49],[.11,.485],[.13,.475],[.21,.305],[.23,.295],[.245,.285]];
const pranseGreen: P[] = [[.63,.72],[.64,.75],[.66,.78],[.68,.79],[.7,.76],[.71,.74],[.73,.72],[.74,.7],[.76,.67],[.78,.65],[.78,.62],[.79,.6],[.77,.58],[.76,.54],[.75,.52],[.73,.5],[.71,.48],[.7,.46],[.7,.43],[.72,.42],[.73,.45],[.68,.41],[.75,.55],[.73,.53],[.63,.57],[.65,.56],[.67,.56],[.69,.56],[.6,.56],[.3,.475],[.32,.48],[.34,.48],[.36,.48],[.18,.455],[.2,.45],[.23,.44],[.47,.45],[.49,.46],[.4,.72],[.88,.8],[.88,.78],[.83,.695],[.86,.695],[.93,.705],[.9,.705],[.86,.68],[.98,.615],[.97,.615],[.76,.84],[.81,.86],[.8,.85],[.78,.815],[.9,.61],[.88,.6],[.86,.58],[.89,.62],[1,.405],[.995,.335],[.55,1],[.47,.89],[.31,.965],[.23,.83],[.145,.67],[.03,.265],[.05,.325],[.06,.33],[.11,.34],[.12,.34],[.19,.24],[.235,.365],[.27,.335],[.32,.39],[.41,.36],[.42,.365],[.78,.29],[.83,.25],[.82,.25],[.76,.225],[.72,.22],[.73,.22],[.67,.26],[.66,.26],[.64,.15],[.45,.2],[.46,.21],[.48,.23],[.5,.25],[.47,.22],[.6,.28],[.33,.57],[.35,.12],[.37,.1],[.39,.1],[.4,.13],[.39,.08],[.32,.59],[.8,.53],[.65,.77],[.69,.78],[.72,.73],[.75,.69],[.77,.66],[.78,.6],[.76,.6],[.75,.57],[.74,.51],[.72,.49],[.71,.43],[.7,.41],[.72,.46],[.71,.45],[.74,.54],[.72,.51],[.64,.74],[.67,.79],[.695,.77],[.705,.75],[.73,.71],[.785,.635],[.785,.61],[.77,.56],[.755,.53],[.705,.47],[.7,.44],[.31,.475],[.33,.48],[.35,.48],[.37,.485],[.64,.565],[.66,.56],[.68,.56],[.19,.45],[.21,.445],[.64,.72]];
const pranseRed: P[] = [[.58,.51],[.6,.52],[.62,.51],[.64,.5],[.56,.49],[.65,.47],[.66,.45],[.66,.43],[.64,.41],[.65,.38],[.62,.36],[.6,.34],[.58,.33],[.56,.35],[.54,.37],[.52,.39],[.52,.41],[.54,.43],[.56,.45],[.58,.47],[.6,.48],[.62,.47],[.58,.43],[.6,.44],[.62,.43],[.58,.4],[.6,.38],[.62,.39],[.56,.4],[.54,.4],[.56,.37],[.58,.36],[.55,.42],[.63,.45],[.5,.2],[.52,.21],[.54,.19],[.55,.17],[.56,.15],[.57,.17],[.58,.19],[.59,.22],[.57,.24],[.55,.24],[.56,.22],[.53,.18],[.02,.4],[.13,.4],[.13,.33],[.11,.25],[.12,.26],[.12,.28],[.13,.27],[.14,.265],[.16,.4],[.18,.4],[.19,.39],[.2,.395],[.13,.815],[.175,.645],[.29,.885],[.28,.89],[.28,.94],[.42,.96],[.43,.955],[.44,.96],[.51,.94],[.52,.94],[.53,.94],[.62,.915],[.69,.435],[.7,.505],[.81,.59],[.18,.185],[.19,.18],[.2,.19],[.21,.195],[.29,.205],[.31,.23],[.33,.215],[.31,.02],[.58,.02],[.72,.075],[.56,.11],[.49,.15],[.43,.25],[.33,.35],[.34,.33],[.36,.31],[.37,.3],[.38,.19],[.38,.17],[.37,.15],[.41,.31],[.42,.32],[.44,.3],[.46,.28],[.48,.26],[.49,.25],[.45,.24],[.465,.36],[.46,.35],[.46,.61],[.33,.6],[.29,.58],[.57,.5],[.59,.5],[.61,.5],[.63,.49],[.65,.49],[.57,.47],[.64,.47],[.59,.46],[.61,.45],[.63,.43],[.65,.43],[.57,.44],[.59,.42],[.61,.41],[.63,.41],[.55,.4],[.57,.39],[.59,.38],[.61,.37],[.63,.37],[.57,.35],[.59,.35],[.61,.35],[.53,.38],[.53,.41],[.55,.37],[.65,.4],[.53,.4],[.54,.22],[.58,.21],[.56,.2],[.55,.19],[.66,.41],[.67,.47],[.6,.53],[.57,.52],[.55,.47],[.53,.44],[.52,.37],[.54,.35],[.56,.33],[.59,.32],[.62,.33],[.64,.37],[.43,.31],[.45,.29],[.47,.27],[.35,.32],[.51,.2],[.53,.21],[.57,.16],[.58,.23]];
const pransePurple: P[] = [[.35,.8],[.37,.82],[.39,.82],[.41,.81],[.43,.8],[.45,.78],[.47,.79],[.46,.75],[.44,.73],[.48,.84],[.5,.86],[.52,.87],[.54,.88],[.57,.89],[.34,.66],[.34,.65],[.36,.72],[.38,.73],[.4,.72],[.42,.7],[.4,.66],[.38,.63],[.36,.6],[.34,.57],[.33,.55],[.32,.53],[.38,.58],[.4,.6],[.42,.62],[.43,.66],[.36,.56],[.44,.6],[.44,.68],[.46,.69],[.48,.7],[.5,.7],[.52,.7],[.54,.7],[.55,.68],[.46,.66],[.48,.66],[.52,.66],[.54,.66],[.56,.65],[.47,.62],[.49,.62],[.52,.63],[.54,.62],[.56,.62],[.57,.6],[.45,.58],[.47,.58],[.49,.56],[.51,.56],[.53,.57],[.55,.58],[.56,.55],[.58,.58],[.6,.6],[.46,.54],[.48,.53],[.5,.52],[.52,.53],[.54,.52],[.44,.54],[.43,.52],[.44,.5],[.435,.49],[.59,.6],[.6,.605],[.36,.49],[.36,.46],[.37,.44],[.35,.42],[.37,.41],[.38,.38],[.06,.77],[.18,.455],[.61,.695],[.665,.62],[.665,.63],[.66,.62],[.69,.62],[.61,.54],[.46,.375],[.4,.34],[.31,.3],[.3,.28],[.3,.26],[.3,.29],[.42,.24],[.44,.25],[.45,.24],[.5,.31],[.52,.31],[.54,.31],[.5,.28],[.53,.27],[.55,.27],[.57,.27],[.59,.26],[.61,.26],[.32,.13],[.33,.11],[.35,.11],[.37,.1],[.39,.1],[.41,.11],[.4,.13],[.45,.13],[.47,.13],[.36,.14],[.77,.12],[.78,.12],[.8,.14],[.81,.15],[.83,.16],[.81,.195],[.42,0],[.41,0],[.45,.68],[.47,.68],[.49,.68],[.51,.68],[.53,.68],[.47,.64],[.49,.64],[.53,.65],[.55,.64],[.48,.6],[.5,.58],[.52,.6],[.54,.6],[.46,.6],[.48,.56],[.5,.54],[.52,.55],[.54,.55],[.47,.55],[.45,.56],[.55,.6],[.53,.59],[.56,.59],[.36,.81],[.38,.83],[.4,.815],[.42,.805],[.44,.79],[.46,.785],[.49,.85],[.51,.865],[.53,.875],[.55,.885],[.56,.89],[.35,.7],[.37,.725],[.39,.725],[.41,.71],[.41,.67],[.39,.645],[.37,.615],[.35,.585],[.39,.59],[.41,.61],[.43,.63],[.34,.105],[.36,.105],[.38,.1],[.4,.105],[.51,.28],[.52,.275],[.54,.27],[.56,.27],[.58,.265],[.6,.26],[.79,.13],[.82,.155],[.46,.13],[.42,.69],[.47,.7],[.57,.64],[.58,.62],[.58,.56],[.45,.52],[.47,.52],[.55,.53]];

const rgcnSeries = [rgcnBlue, rgcnOrange, rgcnGreen, rgcnRed, rgcnPurple];
const kaneSeries = [kaneBlue, kaneOrange, kaneGreen, kaneRed, kanePurple];
const transeSeries = [transeBlue, transeOrange, transeGreen, transeRed, transePurple];
const pranseSeries = [pranseBlue, pranseOrange, pranseGreen, pranseRed, pransePurple];

const AXIS_MIN = -0.0577;
const AXIS_MAX = 1.0577;

const frame = {
  id: "frame",
  afterDraw(chart: any) {
    const { ctx, chartArea: a } = chart;
    ctx.save();
    ctx.strokeStyle = "#222";
    ctx.lineWidth = 1;
    ctx.strokeRect(a.left, a.top, a.right - a.left, a.bottom - a.top);
    ctx.restore();
  },
};

function axis(fit: (s: any) => void) {
  return {
    type: "linear" as const,
    min: AXIS_MIN,
    max: AXIS_MAX,
    afterBuildTicks: (s: any) => {
      s.ticks = tickValues.map((value) => ({ value }));
    },
    afterFit: fit,
    border: { display: false },
    grid: { drawOnChartArea: false, drawTicks: true, tickLength: 3, color: "#333", lineWidth: 0.8 },
    ticks: {
      autoSkip: false,
      maxRotation: 0,
      padding: 2,
      color: "#333",
      font: { family: "'DejaVu Sans'", size: 6.4 },
      callback: (v: any) => Number(v).toFixed(1),
    },
  };
}

function Panel({ series, caption, left, top, width, height, area, captionX, captionY }: any) {
  const ref = useRef<HTMLCanvasElement>(null);
  useEffect(() => {
    const chart = new Chart(ref.current as HTMLCanvasElement, {
      type: "scatter",
      data: {
        datasets: series.map((pts: P[], i: number) => ({
          data: pts.map(([x, y]) => ({ x, y })),
          backgroundColor: seriesColors[i],
          borderColor: seriesColors[i],
          pointRadius: 3.2,
          borderWidth: 0,
        })),
      },
      options: {
        animation: false,
        responsive: false,
        devicePixelRatio: 1,
        layout: { padding: { left: 0, top: area.top, right: width - area.right, bottom: 0 } },
        plugins: { legend: { display: false }, tooltip: { enabled: false } },
        scales: {
          x: axis((s: any) => { s.height = height - area.bottom; }),
          y: axis((s: any) => { s.width = area.left; }),
        },
      } as any,
      plugins: [frame],
    });
    return () => chart.destroy();
  }, []);
  return (
    <>
      <canvas
        ref={ref}
        width={width}
        height={height}
        style={{ position: "absolute", left, top, width, height, filter: "blur(0.4px)" }}
      />
      <div
        style={{
          position: "absolute",
          left: captionX - 100,
          width: 200,
          top: captionY,
          textAlign: "center",
          fontFamily: "'Liberation Serif'",
          fontSize: 24,
          lineHeight: "26px",
          color: "#111",
          whiteSpace: "nowrap",
        }}
      >
        {caption}
      </div>
    </>
  );
}

export default function App() {
  return (
    <div style={{ position: "fixed", left: 0, top: 0, width: 644, height: 584, overflow: "hidden", background: "#fff" }}>
      <Panel series={rgcnSeries} caption={captions[0]} left={0} top={0} width={330} height={240} area={{ left: 28, right: 318, top: 12.7, bottom: 224 }} captionX={161.7} captionY={252} />
      <Panel series={kaneSeries} caption={captions[1]} left={330} top={0} width={330} height={240} area={{ left: 27.3, right: 317.3, top: 11, bottom: 224 }} captionX={491.7} captionY={252} />
      <Panel series={transeSeries} caption={captions[2]} left={0} top={300} width={330} height={247} area={{ left: 28, right: 318, top: 19.3, bottom: 231 }} captionX={162} captionY={558} />
      <Panel series={pranseSeries} caption={captions[3]} left={330} top={300} width={330} height={247} area={{ left: 27.3, right: 317.3, top: 19.3, bottom: 231 }} captionX={491.7} captionY={558} />
    </div>
  );
}
